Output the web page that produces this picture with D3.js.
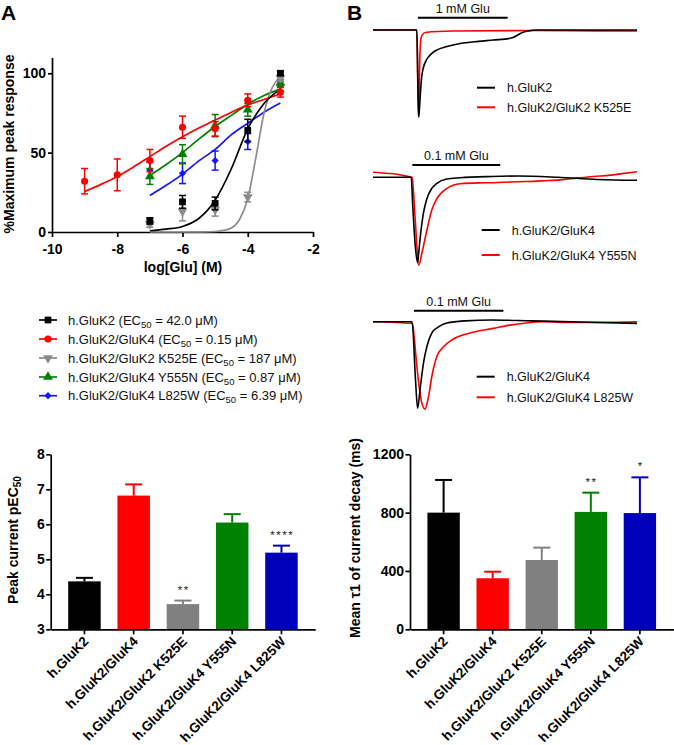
<!DOCTYPE html>
<html><head><meta charset="utf-8">
<script src="https://cdn.jsdelivr.net/npm/d3@7"></script>
<style>
body{margin:0;background:#fff;}
svg{display:block;font-family:Arial,"Liberation Sans",Helvetica,sans-serif;}
</style></head><body>
<svg id="fig" width="674" height="745"></svg>
<script>
// ---------------- DATA ----------------
const receptors = ["h.GluK2","h.GluK2/GluK4","h.GluK2/GluK2 K525E","h.GluK2/GluK4 Y555N","h.GluK2/GluK4 L825W"];
const ec50Labels = ["42.0","0.15","187","0.87","6.39"];
const logGlu = [-9,-8,-7,-6,-5,-4,-3];
// mean % max peak response (null = not tested)
const respGluK2 = [null,null,7,19,18,64,100];
const errGluK2  = [null,null,2,4,4,7,1];
const respGluK4 = [32,36,45,66,65,83,88];
const errGluK4  = [8,10,7,7,4.5,4,3];
const respK525E = [null,null,5,13,14,22,97];
const errK525E  = [null,null,2,6,4,3,2];
const respY555N = [null,null,35,49,67,77,94];
const errY555N  = [null,null,5,6,7,4,2];
const respL825W = [null,null,39,37,45,57,92];
const errL825W  = [null,null,5,6.5,6,5,3];
// fitted concentration-response curves
const fitXLong = [-9,-8.5,-8,-7.5,-7,-6.5,-6,-5.5,-5,-4.5,-4,-3.5,-3];
const fitX     = [-7,-6.5,-6,-5.5,-5,-4.5,-4,-3.5,-3];
const fitXK525E= [-7,-6,-5.5,-5,-4.75,-4.5,-4.25,-4,-3.75,-3.5,-3.25,-3];
const fitGluK2 = [0.8,1.8,3.5,8.5,20,40,65,81,90];
const fitGluK4 = [25.5,30,35,41,47.5,54,60,65.5,70.5,75.5,80,83.5,87];
const fitK525E = [0,0,0.1,0.3,1,2.5,8,21,47,75,91,97.5];
const fitY555N = [35.5,42.5,50,58.5,66.5,73.5,80.5,86,90];
const fitL825W = [23,29.4,36.5,44.8,52,61.3,68.5,75.5,81.3];
const xTicksA = [-10,-8,-6,-4,-2];
const yTicksA = [0,50,100];

// current traces: [time (a.u.), normalised current]
const traceGluK2      = [[0,0],[166,0],[170,-0.6],[173,-1],[176,-0.9],[178,-0.8],[184,-0.55],[191,-0.43],[203,-0.34],[222,-0.27],[241,-0.23],[280,-0.19],[330,-0.155],[400,-0.13],[456,-0.115],[520,-0.095],[535,-0.08],[550,-0.055],[565,-0.03],[590,-0.01],[620,0],[1000,0]];
const traceK525E      = [[0,0],[166,0],[169,-0.5],[172,-0.98],[175,-0.7],[178,-0.25],[183,-0.08],[191,-0.04],[203,-0.025],[300,-0.012],[600,-0.005],[850,-0.01],[1000,-0.012]];
const traceGluK4a     = [[0,0],[145,0],[150,-0.3],[160,-0.8],[169,-1],[172,-0.92],[178,-0.73],[191,-0.42],[204,-0.25],[223,-0.13],[242,-0.07],[280,-0.02],[330,-0.005],[450,0.01],[550,0.015],[700,0],[850,-0.025],[1000,-0.035]];
const traceY555N      = [[0,0.06],[60,0.045],[100,0.03],[140,0.005],[148,0],[160,-0.5],[173,-1.03],[185,-0.89],[204,-0.62],[223,-0.38],[242,-0.25],[280,-0.13],[331,-0.075],[400,-0.065],[457,-0.063],[520,-0.055],[582,-0.05],[650,-0.04],[709,-0.03],[770,-0.01],[835,0.01],[900,0.025],[936,0.04],[1000,0.065]];
const traceGluK4b     = [[0,0],[148,0],[161,-0.67],[169,-1],[178,-0.79],[191,-0.48],[204,-0.29],[223,-0.13],[248,-0.06],[280,-0.015],[350,0.01],[450,0.02],[600,0.01],[750,0],[1000,-0.02]];
const traceL825W      = [[0,0],[150,-0.02],[155,-0.15],[169,-0.6],[185,-0.94],[197,-1.01],[210,-0.87],[223,-0.63],[242,-0.40],[267,-0.29],[304,-0.20],[367,-0.13],[456,-0.077],[519,-0.04],[580,-0.015],[645,0],[750,-0.01],[1000,0]];
const gluLabels = ["1 mM Glu","0.1 mM Glu","0.1 mM Glu"];
const gluOn  = [170,149,155];
const gluOff = [510,482,494];
const traceLegend = [["h.GluK2","h.GluK2/GluK2 K525E"],["h.GluK2/GluK4","h.GluK2/GluK4 Y555N"],["h.GluK2/GluK4","h.GluK2/GluK4 L825W"]];

// bar charts
const pEC50    = [4.37,6.82,3.72,6.05,5.19];
const pEC50Err = [0.10,0.32,0.10,0.24,0.20];
const pEC50Sig = ["","","**","","****"];
const yTicksC  = [3,4,5,6,7,8];
const tau1     = [800,350,475,805,797];
const tau1Err  = [224,45,85,132,245];
const tau1Sig  = ["","","","**","*"];
const yTicksD  = [0,400,800,1200];

// ---------------- STYLE ----------------
const lineColors = ["#000000","#ff0000","#8c8c8c","#008000","#1414ff"];
const barColors  = ["#000000","#ff0000","#808080","#008000","#0000bb"];
const FONT = 'Arial,"Liberation Sans",Helvetica,sans-serif';
const svg = d3.select("#fig");

function styleAxis(g, size){
  g.selectAll("path,line").attr("stroke","#000").attr("stroke-width",1.7);
  g.selectAll("text").attr("font-size",size||14).attr("font-weight","bold").attr("fill","#000").attr("font-family",FONT);
}

// panel letters
svg.append("text").attr("x",1).attr("y",19.5).text("A").attr("font-size",21).attr("font-weight","bold");
svg.append("text").attr("x",347).attr("y",19.5).text("B").attr("font-size",21).attr("font-weight","bold");

// ---------------- PANEL A : concentration-response ----------------
const xA = d3.scaleLinear().domain([-10,-2]).range([52,313]);
const yA = d3.scaleLinear().domain([0,110]).range([232,57.4]);

const gx = svg.append("g").attr("transform","translate(0,232)")
  .call(d3.axisBottom(xA).tickValues(xTicksA).tickSize(5).tickSizeOuter(0).tickPadding(7).tickFormat(d=>String(d)));
styleAxis(gx);
const gy = svg.append("g").attr("transform","translate(52,0)")
  .call(d3.axisLeft(yA).tickValues(yTicksA).tickSize(4).tickSizeOuter(0).tickPadding(2).tickFormat(d=>String(d)));
styleAxis(gy);

svg.append("text").attr("x",183).attr("y",272).attr("text-anchor","middle")
  .attr("font-size",14).attr("font-weight","bold").text("log[Glu] (M)");
svg.append("text").attr("transform","translate(9,144) rotate(-90)").attr("text-anchor","middle").attr("dy","0.35em")
  .attr("font-size",14).attr("font-weight","bold").text("%Maximum peak response");

const symTriDown = {draw(ctx,size){ const s=Math.sqrt(size*4/Math.sqrt(3)); const h=s*Math.sqrt(3)/2;
  ctx.moveTo(-s/2,-h/3); ctx.lineTo(s/2,-h/3); ctx.lineTo(0,2*h/3); ctx.closePath(); }};
const symTriUp = {draw(ctx,size){ const s=Math.sqrt(size*4/Math.sqrt(3)); const h=s*Math.sqrt(3)/2;
  ctx.moveTo(-s/2,h/3); ctx.lineTo(s/2,h/3); ctx.lineTo(0,-2*h/3); ctx.closePath(); }};
const symDiamond = {draw(ctx,size){ const r=Math.sqrt(size/2);
  ctx.moveTo(0,-r); ctx.lineTo(r,0); ctx.lineTo(0,r); ctx.lineTo(-r,0); ctx.closePath(); }};
const markers = [[d3.symbolSquare,46],[d3.symbolCircle,40],[symTriDown,42],[symTriUp,42],[symDiamond,26]];

const seriesMeans = [respGluK2,respGluK4,respK525E,respY555N,respL825W];
const seriesErrs  = [errGluK2,errGluK4,errK525E,errY555N,errL825W];
const fitXs = [fitX,fitXLong,fitXK525E,fitX,fitX];
const fitYs = [fitGluK2,fitGluK4,fitK525E,fitY555N,fitL825W];
const drawOrder = [4,3,2,1,0];

const lineA = d3.line().x(d=>xA(d[0])).y(d=>yA(d[1])).curve(d3.curveMonotoneX);
const plotA = svg.append("g");
drawOrder.forEach(i=>{
  plotA.append("path").datum(fitXs[i].map((x,k)=>[x,fitYs[i][k]]))
    .attr("d",lineA).attr("fill","none").attr("stroke",lineColors[i]).attr("stroke-width",1.7);
});
drawOrder.forEach(i=>{
  const g = plotA.append("g");
  const pts = logGlu.map((x,k)=>({x,m:seriesMeans[i][k],e:seriesErrs[i][k]})).filter(d=>d.m!==null);
  pts.forEach(d=>{
    const cx = xA(d.x);
    g.append("line").attr("x1",cx).attr("x2",cx).attr("y1",yA(d.m-d.e)).attr("y2",yA(d.m+d.e))
      .attr("stroke",lineColors[i]).attr("stroke-width",1.5);
    [d.m-d.e,d.m+d.e].forEach(v=>g.append("line").attr("x1",cx-3.5).attr("x2",cx+3.5).attr("y1",yA(v)).attr("y2",yA(v))
      .attr("stroke",lineColors[i]).attr("stroke-width",1.5));
    g.append("path").attr("d",d3.symbol().type(markers[i][0]).size(markers[i][1])())
      .attr("transform",`translate(${cx},${yA(d.m)})`).attr("fill",lineColors[i]);
  });
});

// legend A
const legRowY = [320,339,358,377,395.7];
receptors.forEach((r,i)=>{
  const y = legRowY[i];
  svg.append("line").attr("x1",39).attr("x2",57).attr("y1",y).attr("y2",y).attr("stroke",lineColors[i]).attr("stroke-width",1.7);
  svg.append("path").attr("d",d3.symbol().type(markers[i][0]).size(markers[i][1])())
    .attr("transform",`translate(48,${y})`).attr("fill",lineColors[i]);
  const t = svg.append("text").attr("x",68).attr("y",y+4.5).attr("font-size",13).attr("fill","#111");
  t.append("tspan").text(r+" (EC");
  t.append("tspan").attr("font-size",9.5).attr("dy",3).text("50");
  t.append("tspan").attr("dy",-3).text(" = "+ec50Labels[i]+" \u03bcM)");
});

// ---------------- PANEL B : traces ----------------
const xT = d3.scaleLinear().domain([0,1000]).range([373,637]);
const panelsB = [
  {base:30, peak:117.3, traces:[traceGluK2,traceK525E], barY:17.7, labY:13, legY:[87.7,107.3], legX:477},
  {base:177.3, peak:262.7, traces:[traceGluK4a,traceY555N], barY:165, labY:159.5, legY:[230,255], legX:481.7},
  {base:321.7, peak:408.3, traces:[traceGluK4b,traceL825W], barY:310.7, labY:306, legY:[376.7,397.3], legX:476.7}
];
const traceCols = ["#000000","#ff0000"];
panelsB.forEach((p,pi)=>{
  const yT = d3.scaleLinear().domain([-1,0]).range([p.peak,p.base]);
  const ln = d3.line().x(d=>xT(d[0])).y(d=>yT(d[1])).curve(d3.curveMonotoneX);
  [1,0].forEach(k=>{
    svg.append("path").datum(p.traces[k]).attr("d",ln).attr("fill","none")
      .attr("stroke",traceCols[k]).attr("stroke-width",1.6).attr("stroke-linejoin","round");
  });
  svg.append("line").attr("x1",xT(gluOn[pi])).attr("x2",xT(gluOff[pi])).attr("y1",p.barY).attr("y2",p.barY)
    .attr("stroke","#000").attr("stroke-width",2);
  svg.append("text").attr("x",(xT(gluOn[pi])+xT(gluOff[pi]))/2).attr("y",p.labY).attr("text-anchor","middle")
    .attr("font-size",12.5).attr("fill","#111").text(gluLabels[pi]);
  traceLegend[pi].forEach((lab,k)=>{
    const y = p.legY[k];
    svg.append("line").attr("x1",p.legX).attr("x2",p.legX+18).attr("y1",y).attr("y2",y).attr("stroke",traceCols[k]).attr("stroke-width",2);
    svg.append("text").attr("x",p.legX+30).attr("y",y+4.5).attr("font-size",12.5).attr("fill","#111").text(lab);
  });
});

// ---------------- BAR CHARTS ----------------
function barChart(opt){
  const x = d3.scaleBand().domain(receptors).range([opt.x0,opt.x1]).paddingInner(0.34).paddingOuter(0.355);
  const y = d3.scaleLinear().domain(opt.domain).range([629.3,454.3]);
  const g = svg.append("g");
  receptors.forEach((r,i)=>{
    const cx = x(r)+x.bandwidth()/2;
    const top = y(opt.vals[i]+opt.errs[i]);
    g.append("line").attr("x1",cx).attr("x2",cx).attr("y1",y(opt.vals[i])).attr("y2",top)
      .attr("stroke",barColors[i]).attr("stroke-width",2);
    g.append("line").attr("x1",cx-8.5).attr("x2",cx+8.5).attr("y1",top).attr("y2",top)
      .attr("stroke",barColors[i]).attr("stroke-width",2);
    g.append("rect").attr("x",x(r)).attr("width",x.bandwidth()).attr("y",y(opt.vals[i]))
      .attr("height",y(opt.domain[0])-y(opt.vals[i])).attr("fill",barColors[i]);
    if(opt.sig[i]) g.append("text").attr("x",cx+0.75).attr("y",top-7).attr("text-anchor","middle")
      .attr("font-size",11.5).attr("letter-spacing","1.5px").attr("fill","#222").text(opt.sig[i]);
    g.append("text").attr("transform",`translate(${cx+5},${629.3+13}) rotate(-45)`).attr("text-anchor","end")
      .attr("font-size",13.5).attr("font-weight","bold").text(r);
  });
  const ax = svg.append("g").attr("transform","translate(0,629.3)")
    .call(d3.axisBottom(x).tickSize(5).tickSizeOuter(0).tickFormat(""));
  styleAxis(ax);
  const ay = svg.append("g").attr("transform",`translate(${opt.x0},0)`)
    .call(d3.axisLeft(y).tickValues(opt.ticks).tickSize(4.5).tickSizeOuter(0).tickPadding(1.5).tickFormat(d=>String(d)));
  styleAxis(ay);
  return y;
}
barChart({x0:50.7,x1:315.2,domain:[3,8],vals:pEC50,errs:pEC50Err,sig:pEC50Sig,ticks:yTicksC});
barChart({x0:410,x1:673.5,domain:[0,1200],vals:tau1,errs:tau1Err,sig:tau1Sig,ticks:yTicksD});

const lc = svg.append("text").attr("transform","translate(13,540) rotate(-90)").attr("text-anchor","middle").attr("dy","0.35em")
  .attr("font-size",14).attr("font-weight","bold");
lc.append("tspan").text("Peak current pEC");
lc.append("tspan").attr("font-size",10).attr("dy",3).text("50");
svg.append("text").attr("transform","translate(355,538) rotate(-90)").attr("text-anchor","middle").attr("dy","0.35em")
  .attr("font-size",14).attr("font-weight","bold").text("Mean \u03c41 of current decay (ms)");
</script></body></html>
